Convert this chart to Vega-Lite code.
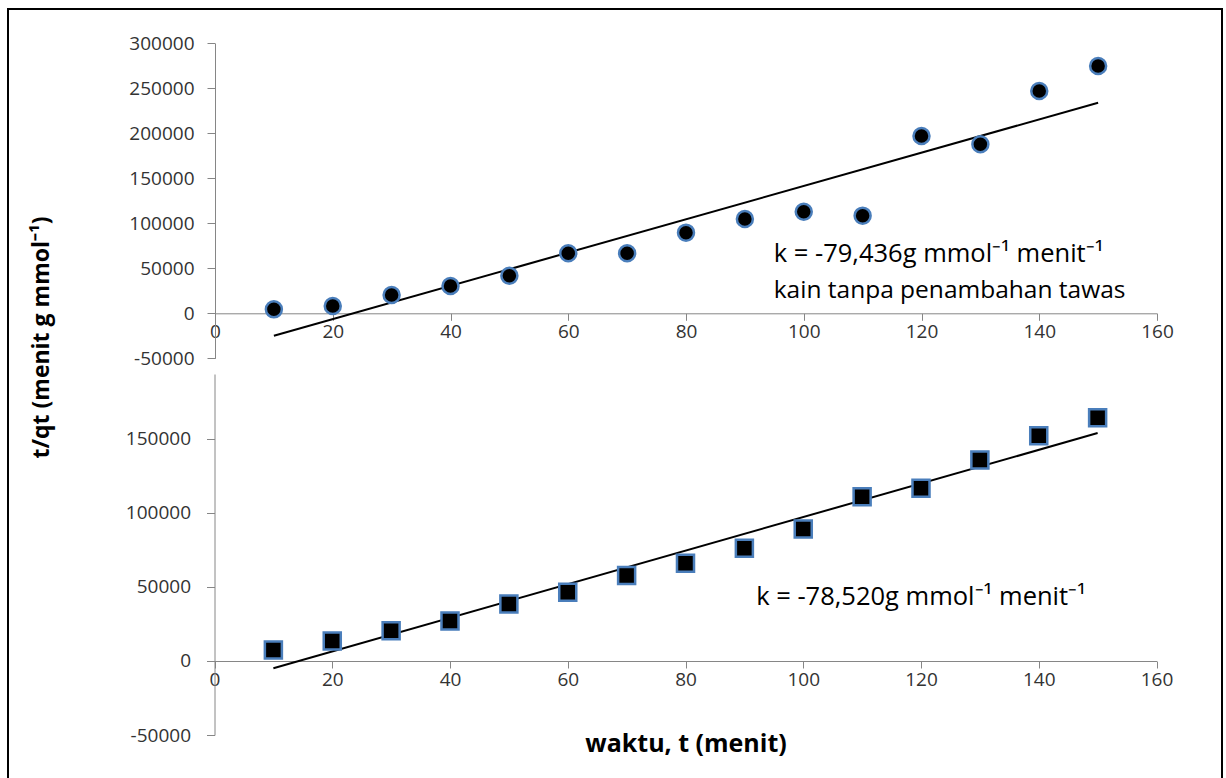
{
  "$schema": "https://vega.github.io/schema/vega-lite/v6.json",
  "width": 1214,
  "height": 771,
  "padding": {"left": 8, "top": 9, "right": 4, "bottom": 0},
  "background": "#ffffff",
  "config": {
    "view": {"stroke": "#000000", "strokeWidth": 2},
    "font": "Open Sans",
    "axis": {
      "grid": false,
      "domainColor": "#868686",
      "tickColor": "#868686",
      "labelColor": "#333333",
      "labelFontSize": 19,
      "labelFont": "Open Sans",
      "labelOverlap": false,
      "labelFlush": false,
      "labelExpr": "replace(datum.label, '−', '-')",
      "titleColor": "#000000",
      "titleFont": "Open Sans"
    }
  },
  "datasets": {
    "top_points": [
      {"t": 10, "q": 4400}, {"t": 20, "q": 8100}, {"t": 30, "q": 20300},
      {"t": 40, "q": 30300}, {"t": 50, "q": 41800}, {"t": 60, "q": 66700},
      {"t": 70, "q": 66700}, {"t": 80, "q": 89600}, {"t": 90, "q": 104800},
      {"t": 100, "q": 112900}, {"t": 110, "q": 108500}, {"t": 120, "q": 197000},
      {"t": 130, "q": 187800}, {"t": 140, "q": 247000}, {"t": 150, "q": 274800}
    ],
    "top_fit": [{"t": 10, "q": -25000}, {"t": 150, "q": 234000}],
    "top_note1": [{"t": 94.9, "q": 57300, "label": "k = -79,436g mmol⁻¹ menit⁻¹"}],
    "top_note2": [{"t": 94.9, "q": 16700, "label": "kain tanpa penambahan tawas"}],
    "bottom_points": [
      {"t": 10, "q": 7400}, {"t": 20, "q": 13500}, {"t": 30, "q": 20500},
      {"t": 40, "q": 27000}, {"t": 50, "q": 38500}, {"t": 60, "q": 46400},
      {"t": 70, "q": 57700}, {"t": 80, "q": 66000}, {"t": 90, "q": 76100},
      {"t": 100, "q": 89200}, {"t": 110, "q": 111000}, {"t": 120, "q": 116700},
      {"t": 130, "q": 135800}, {"t": 140, "q": 152200}, {"t": 150, "q": 164400}
    ],
    "bottom_fit": [{"t": 10, "q": -4900}, {"t": 150, "q": 154000}],
    "bottom_note": [{"t": 92, "q": 37800, "label": "k = -78,520g mmol⁻¹ menit⁻¹"}]
  },
  "layer": [
    {
      "encoding": {
        "x": {
          "field": "t", "type": "quantitative",
          "scale": {"domain": [0, 160], "range": [207, 1149], "nice": false, "zero": false},
          "axis": {
            "orient": "bottom", "offset": -466.7,
            "values": [0, 20, 40, 60, 80, 100, 120, 140, 160],
            "format": "d", "title": null, "tickSize": 7, "labelPadding": 2
          }
        },
        "y": {
          "field": "q", "type": "quantitative",
          "scale": {"domain": [-50000, 300000], "range": [349.3, 34.3], "nice": false, "zero": false},
          "axis": {
            "orient": "left", "offset": -207,
            "values": [-50000, 0, 50000, 100000, 150000, 200000, 250000, 300000],
            "format": "d", "tickSize": 8, "labelPadding": 13,
            "title": "t/qt (menit g mmol⁻¹)",
            "titleX": -174, "titleY": 328, "titleAngle": 270,
            "titleAlign": "center", "titleBaseline": "middle",
            "titleFontSize": 23, "titleFontWeight": "bold"
          }
        }
      },
      "layer": [
        {
          "data": {"name": "top_fit"},
          "mark": {"type": "line", "color": "#000000", "strokeWidth": 2}
        },
        {
          "data": {"name": "top_points"},
          "mark": {"type": "point", "shape": "circle", "filled": true, "fill": "#000000", "stroke": "#4A7EBB", "strokeWidth": 2.5, "size": 256, "opacity": 1}
        },
        {
          "data": {"name": "top_note1"},
          "mark": {"type": "text", "align": "left", "baseline": "alphabetic", "fontSize": 25.5, "color": "#000000"},
          "encoding": {"text": {"field": "label"}}
        },
        {
          "data": {"name": "top_note2"},
          "mark": {"type": "text", "align": "left", "baseline": "alphabetic", "fontSize": 24.5, "color": "#000000"},
          "encoding": {"text": {"field": "label"}}
        }
      ]
    },
    {
      "encoding": {
        "x": {
          "field": "t", "type": "quantitative",
          "scale": {"domain": [0, 160], "range": [206.5, 1148.5], "nice": false, "zero": false},
          "axis": {
            "orient": "bottom", "offset": -119,
            "values": [0, 20, 40, 60, 80, 100, 120, 140, 160],
            "format": "d", "tickSize": 7, "labelPadding": 2,
            "title": "waktu, t (menit)",
            "titleY": 82, "titleBaseline": "middle",
            "titleFontSize": 25, "titleFontWeight": "bold"
          }
        },
        "y": {
          "field": "q", "type": "quantitative",
          "scale": {"domain": [-50000, 193900], "range": [726, 365], "nice": false, "zero": false},
          "axis": {
            "orient": "left", "offset": -206.5,
            "values": [-50000, 0, 50000, 100000, 150000],
            "format": "d", "tickSize": 8, "labelPadding": 16, "title": null
          }
        }
      },
      "layer": [
        {
          "data": {"name": "bottom_fit"},
          "mark": {"type": "line", "color": "#000000", "strokeWidth": 2}
        },
        {
          "data": {"name": "bottom_points"},
          "mark": {"type": "point", "shape": "square", "filled": true, "fill": "#000000", "stroke": "#4A7EBB", "strokeWidth": 2.5, "size": 290, "opacity": 1}
        },
        {
          "data": {"name": "bottom_note"},
          "mark": {"type": "text", "align": "left", "baseline": "alphabetic", "fontSize": 25.5, "color": "#000000"},
          "encoding": {"text": {"field": "label"}}
        }
      ]
    }
  ],
  "resolve": {"scale": {"x": "independent", "y": "independent"}}
}
